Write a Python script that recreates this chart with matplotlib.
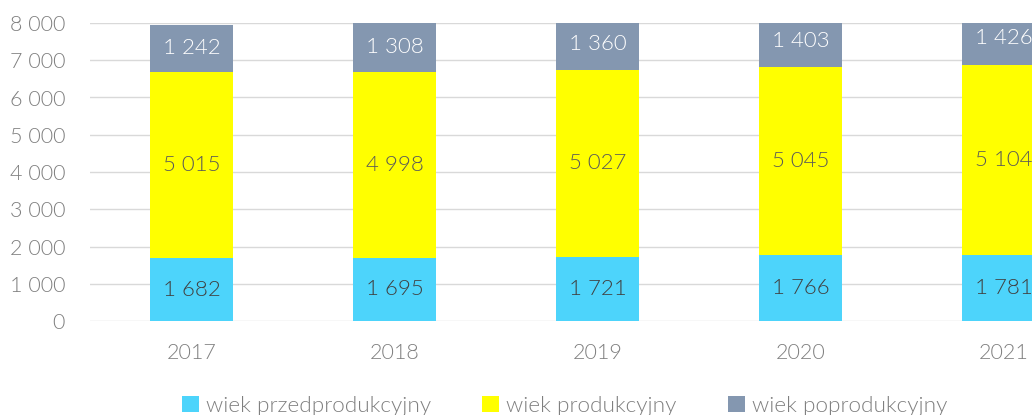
import matplotlib.pyplot as plt
import numpy as np
from matplotlib.patches import Patch

years = ["2017", "2018", "2019", "2020", "2021"]
przed = [1682, 1695, 1721, 1766, 1781]
prod = [5015, 4998, 5027, 5045, 5104]
popr = [1242, 1308, 1360, 1403, 1426]
names = ["wiek przedprodukcyjny", "wiek produkcyjny", "wiek poprodukcyjny"]
colors = ["#4dd4fb", "#ffff00", "#8497b0"]
label_colors = ["#404040", "#595959", "#ffffff"]

plt.rcParams['font.family'] = ['Lato', 'DejaVu Sans']
plt.rcParams['font.weight'] = 300


def fmt(v):
    return f"{v:,}".replace(",", " ")


fig = plt.figure(figsize=(10.32, 4.15), dpi=100)
ax = fig.add_axes([90 / 1032, 1 - 321 / 415, 1015 / 1032, 298 / 415])

x = np.arange(len(years))
bottom = np.zeros(len(years))
for vals, col, lc in zip([przed, prod, popr], colors, label_colors):
    vals = np.array(vals)
    ax.bar(x, vals, 0.405, bottom=bottom, color=col, zorder=2)
    for xi, b, v in zip(x, bottom, vals):
        ax.text(xi, b + v / 2, fmt(v), ha='center', va='center',
                fontsize=16, color=lc, zorder=3)
    bottom += vals

ax.set_xlim(-0.5, 4.5)
ax.set_ylim(0, 8000)
ax.set_yticks(range(0, 8001, 1000))
ax.set_yticklabels([fmt(v) for v in range(0, 8001, 1000)])
ax.set_xticks(x)
ax.set_xticklabels(years)
ax.grid(axis='y', color='#d9d9d9', linewidth=1, zorder=0)
for s in ax.spines.values():
    s.set_visible(False)
ax.tick_params(axis='y', length=0, pad=18, labelsize=15.5, labelcolor='#7f7f7f')
ax.tick_params(axis='x', length=0, pad=16, labelsize=15.5, labelcolor='#7f7f7f')

handles = [Patch(facecolor=c, edgecolor='none') for c in colors]
fig.legend(handles, names, loc='center', bbox_to_anchor=(0.547, 1 - 406 / 415),
           ncol=3, frameon=False, fontsize=16.2, labelcolor='#7f7f7f',
           handlelength=0.75, handleheight=0.75, handletextpad=0.3,
           columnspacing=2.3)

fig.savefig("out.png", dpi=100)
